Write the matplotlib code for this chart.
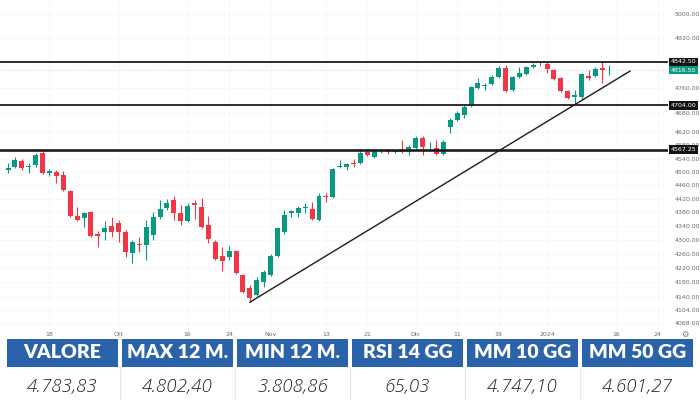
#!/usr/bin/env python3
"""Candlestick chart with support lines and a stats strip underneath."""

import numpy as np
import matplotlib

matplotlib.use("Agg")
import matplotlib.pyplot as plt
from matplotlib.patches import Rectangle
from matplotlib.transforms import blended_transform_factory

# daily candles, oldest first
opens = [4506, 4515, 4533, 4515, 4521, 4557, 4497, 4500, 4491, 4443,
         4369, 4363, 4381, 4317, 4323, 4340, 4349, 4323, 4263, 4289,
         4286, 4314, 4366, 4393, 4416, 4378, 4355, 4407, 4396, 4343,
         4294, 4254, 4251, 4268, 4201, 4164, 4145, 4181, 4201, 4254,
         4323, 4378, 4378, 4394, 4390, 4358, 4428, 4425, 4516, 4515,
         4528, 4527, 4560, 4545, 4562, 4566, 4561, 4569, 4560, 4573,
         4603, 4577, 4573, 4554, 4637, 4658, 4674, 4702, 4759, 4766,
         4772, 4794, 4823, 4753, 4794, 4804, 4826, 4837, 4836, 4817,
         4791, 4750, 4731, 4731, 4797, 4797, 4823, 4815]
highs = [4527, 4545, 4539, 4527, 4557, 4566, 4509, 4506, 4503, 4446,
         4396, 4381, 4384, 4326, 4355, 4366, 4358, 4329, 4300, 4308,
         4358, 4381, 4416, 4419, 4428, 4402, 4407, 4416, 4422, 4369,
         4300, 4280, 4283, 4271, 4203, 4173, 4195, 4215, 4260, 4337,
         4387, 4387, 4399, 4407, 4410, 4437, 4437, 4512, 4536, 4527,
         4539, 4566, 4566, 4569, 4568, 4569, 4567, 4597, 4581, 4609,
         4609, 4590, 4597, 4597, 4665, 4687, 4705, 4765, 4791, 4775,
         4801, 4829, 4833, 4797, 4826, 4829, 4839, 4842, 4842, 4820,
         4794, 4753, 4753, 4807, 4817, 4826, 4846, 4833]
lows = [4497, 4511, 4506, 4497, 4515, 4494, 4488, 4467, 4443, 4366,
        4355, 4337, 4308, 4280, 4300, 4308, 4294, 4251, 4234, 4266,
        4243, 4300, 4360, 4387, 4358, 4343, 4352, 4361, 4334, 4291,
        4243, 4212, 4243, 4203, 4150, 4126, 4142, 4167, 4198, 4251,
        4317, 4366, 4366, 4378, 4358, 4355, 4410, 4422, 4512, 4506,
        4515, 4524, 4548, 4542, 4558, 4555, 4556, 4557, 4551, 4566,
        4551, 4566, 4551, 4551, 4618, 4655, 4665, 4699, 4756, 4753,
        4769, 4791, 4746, 4750, 4791, 4801, 4823, 4830, 4807, 4785,
        4746, 4724, 4705, 4721, 4785, 4794, 4775, 4801]
closes = [4512, 4536, 4512, 4518, 4551, 4497, 4503, 4488, 4446, 4369,
          4358, 4378, 4311, 4311, 4334, 4323, 4323, 4266, 4294, 4286,
          4337, 4366, 4390, 4407, 4378, 4355, 4399, 4402, 4337, 4303,
          4246, 4240, 4268, 4206, 4153, 4137, 4187, 4209, 4254, 4334,
          4372, 4384, 4393, 4396, 4361, 4428, 4425, 4509, 4518, 4524,
          4525, 4557, 4551, 4566, 4563, 4560, 4563, 4560, 4575, 4603,
          4575, 4579, 4554, 4591, 4658, 4680, 4699, 4762, 4775, 4768,
          4794, 4823, 4750, 4794, 4807, 4826, 4833, 4835, 4820, 4788,
          4750, 4727, 4737, 4804, 4791, 4820, 4817, 4816.5]

tick_pos = [6, 16, 26, 32, 38, 46, 52, 59, 65, 71, 78, 88, 94]
tick_labels = ["18", "Ott", "16", "24", "Nov", "13", "21", "Dic", "11",
               "19", "2024", "16", "24"]

y_ticks = [5000, 4920, 4760, 4680, 4620, 4580, 4540, 4500, 4460, 4420, 4380,
           4340, 4300, 4260, 4220, 4180, 4140, 4104, 4068]

levels = [4842.50, 4704.00, 4567.25]
last_price = 4816.50
trend_x = [35, 90]
trend_y = [4125, 4813]

stat_names = ["VALORE", "MAX 12 M.", "MIN 12 M.", "RSI 14 GG", "MM 10 GG", "MM 50 GG"]
stat_values = ["4.783,83", "4.802,40", "3.808,86", "65,03", "4.747,10", "4.601,27"]

UP = "#089981"
DOWN = "#f23645"
HEAD = "#2a63a9"


def main() -> None:
    fig = plt.figure(figsize=(7, 4), dpi=100)
    ax = fig.add_axes([0, 70 / 400, 668 / 700, 330 / 400])

    o = np.array(opens, dtype=float)
    h = np.array(highs, dtype=float)
    l = np.array(lows, dtype=float)
    c = np.array(closes, dtype=float)
    x = np.arange(o.size)
    colors = np.where(c >= o, UP, DOWN)

    ax.vlines(x, l, h, colors=colors, linewidth=0.8, zorder=3)
    bottom = np.minimum(o, c)
    height = np.maximum(np.abs(c - o), 1.6)
    ax.bar(x, height, bottom=bottom, width=0.72, color=colors, linewidth=0, zorder=4)

    ax.set_yscale("log")
    ax.set_ylim(4049, 5047)
    ax.set_xlim(-1.16, 95.5)

    ax.axhline(last_price, color="#d8ebe6", linewidth=0.9, linestyle=(0, (1, 1)), zorder=2)
    for lev, lw in zip(levels, [1.3, 1.3, 1.9]):
        ax.axhline(lev, color="#1c1c1c", linewidth=lw, zorder=5)
    ax.plot(trend_x, trend_y, color="#1c1c1c", linewidth=1.0, zorder=5)

    ax.yaxis.tick_right()
    ax.set_yticks(y_ticks)
    ax.set_yticklabels([f"{v:.2f}" for v in y_ticks])
    ax.yaxis.set_minor_locator(matplotlib.ticker.NullLocator())
    ax.set_xticks(tick_pos)
    ax.set_xticklabels(tick_labels)
    ax.tick_params(axis="both", length=0, labelsize=4.5, labelcolor="#6b6b6b")
    ax.tick_params(axis="y", pad=5)
    ax.tick_params(axis="x", pad=1.5)
    ax.grid(True, color="#f7f7f9", linewidth=0.6, zorder=0)
    for side in ax.spines.values():
        side.set_visible(False)

    # price tags on the right scale
    tr = blended_transform_factory(ax.transAxes, ax.transData)
    for lev in levels:
        ax.text(1.004, lev, f"{lev:.2f}", transform=tr, ha="left", va="center",
                fontsize=4.5, color="white", zorder=10,
                bbox=dict(boxstyle="square,pad=0.3", fc="#131313", ec="none"))
    ax.text(1.004, last_price, f"{last_price:.2f}", transform=tr, ha="left",
            va="center", fontsize=4.5, color="white", zorder=10,
            bbox=dict(boxstyle="square,pad=0.3", fc=UP, ec="none"))
    fig.text(685 / 700, 1 - 334 / 400, "\u2699", ha="center", va="center",
             fontsize=6, color="#777777")

    # stats strip
    cell_w = 115 / 700
    for i, (name, val) in enumerate(zip(stat_names, stat_values)):
        x0 = (5 + 115 * i + 2) / 700
        w = cell_w - 4 / 700
        fig.patches.append(Rectangle((x0, 1 - 367 / 400), w, 28 / 400,
                                     transform=fig.transFigure, fc=HEAD, ec="none"))
        fig.text(x0 + w / 2, 1 - 353 / 400, name, ha="center", va="center",
                 fontsize=14, color="white", fontweight="heavy", family="Lato")
        fig.text(x0 + w / 2, 1 - 387 / 400, val, ha="center", va="center",
                 fontsize=13.5, color="#222222", style="italic", fontweight="light",
                 family="Open Sans")
        if i > 0:
            xs = (5 + 115 * i) / 700
            fig.lines.append(plt.Line2D([xs, xs], [0, 1 - 368 / 400],
                                        transform=fig.transFigure,
                                        color="#e6e6e6", linewidth=0.8))

    fig.savefig("out.png", dpi=100)
    plt.close(fig)


if __name__ == "__main__":
    main()
